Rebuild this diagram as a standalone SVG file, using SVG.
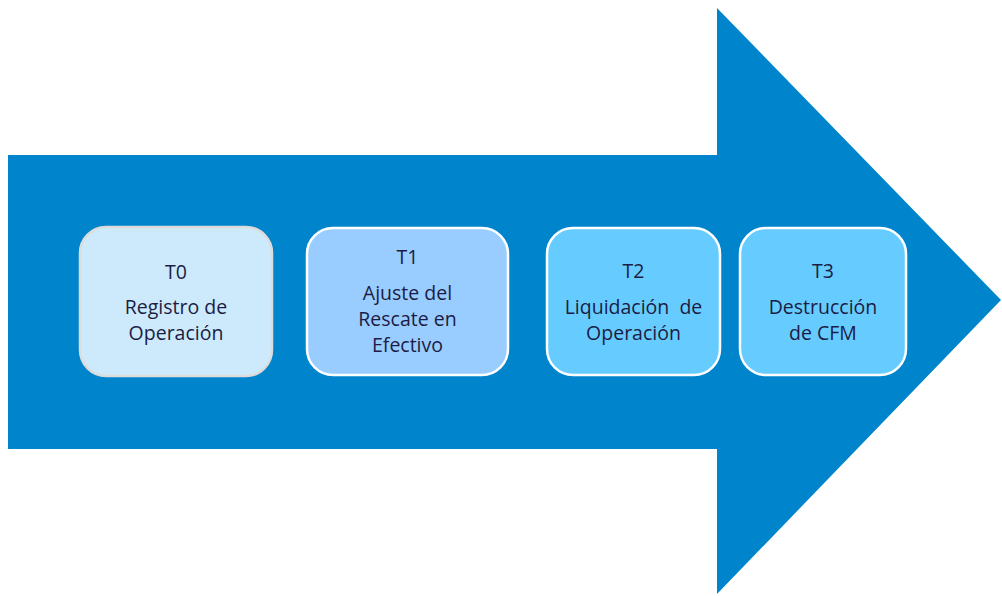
<svg xmlns="http://www.w3.org/2000/svg" width="1002" height="596" viewBox="0 0 1002 596">
<style>
.t{font-family:"Open Sans","Liberation Sans",sans-serif;font-size:19.5px;fill:#1c1c44;text-anchor:middle;white-space:pre}
.b{stroke-width:2.5}
</style>
<rect width="1002" height="596" fill="#ffffff"/>
<g id="arrow">
<path d="M8,155 H717 V8 L1001,300 L717,594 V449 H8 Z" fill="#0085cc"/>
</g>
<g id="connectors"></g>
<g id="t0">
<rect class="b" x="80" y="227" width="192" height="149" rx="26" fill="#cceafc" stroke="#dcdcdc"/>
<text class="t" x="176" y="279">T0</text>
<text class="t" x="176" y="314">Registro de</text>
<text class="t" x="176" y="340">Operación</text>
</g>
<g id="t1">
<rect class="b" x="307" y="228" width="201" height="147" rx="26" fill="#99ccff" stroke="#ffffff"/>
<text class="t" x="407.5" y="264">T1</text>
<text class="t" x="407.5" y="300">Ajuste del</text>
<text class="t" x="407.5" y="326">Rescate en</text>
<text class="t" x="407.5" y="352">Efectivo</text>
</g>
<g id="t2">
<rect class="b" x="547" y="228" width="173" height="147" rx="26" fill="#66ccff" stroke="#ffffff"/>
<text class="t" x="633.5" y="278">T2</text>
<text class="t" x="633.5" y="314">Liquidación  de</text>
<text class="t" x="633.5" y="340">Operación</text>
</g>
<g id="t3">
<rect class="b" x="740" y="228" width="166" height="147" rx="26" fill="#66ccff" stroke="#ffffff"/>
<text class="t" x="823" y="278">T3</text>
<text class="t" x="823" y="314">Destrucción</text>
<text class="t" x="823" y="340">de CFM</text>
</g>
</svg>
